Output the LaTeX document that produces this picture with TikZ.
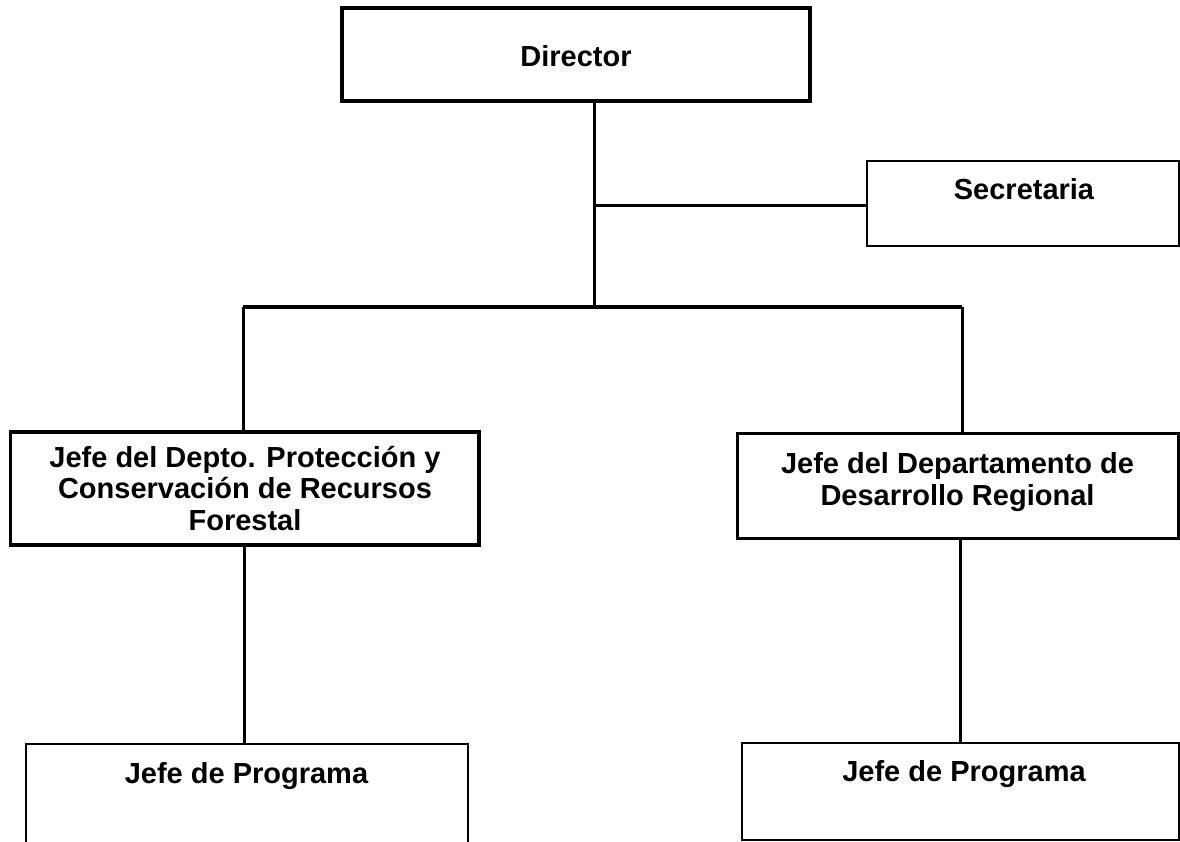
\documentclass[tikz,border=0pt]{standalone}
\usepackage{fontspec}
\setmainfont{Liberation Sans}
\begin{document}
\begin{tikzpicture}[x=1pt,y=-1pt,
  box/.style={draw=black, rectangle, inner sep=0pt, minimum width=#1},
  lbl/.style={font=\fontsize{29}{31.5}\selectfont\bfseries, inner sep=0pt, align=center, anchor=base},
  conn/.style={draw=black, line width=3pt}
]
\clip (0,0) rectangle (1180,842);
\fill[white] (0,0) rectangle (1180,842);
% boxes
\node[box=468pt, minimum height=93pt, line width=3.5pt] (dir) at (576,54.5) {};
\node[box=312pt, minimum height=85pt, line width=2pt] (sec) at (1023,203.5) {};
\node[box=468.5pt, minimum height=113pt, line width=3.5pt] (L1) at (244.75,488.5) {};
\node[box=441pt, minimum height=105pt, line width=3pt] (R1) at (957.5,485.5) {};
\node[box=442pt, minimum height=116pt, line width=2pt] (L2) at (247,802) {};
\node[box=436.5pt, minimum height=97pt, line width=2pt] (R2) at (960.25,791.5) {};
% texts (anchor=base is the baseline of the last line)
\node[lbl] (dirT) at (576,67) {Director};
\node[lbl] (secT) at (1024,200) {Secretaria};
\node[lbl] (L1T) at (245,530) {Jefe del Depto. Protección y\\Conservación de Recursos\\Forestal};
\node[lbl] (R1T) at (957.5,505) {Jefe del Departamento de\\Desarrollo Regional};
\node[lbl] (L2T) at (246.5,783) {Jefe de Programa};
\node[lbl] (R2T) at (964,781) {Jefe de Programa};
% junctions
\coordinate (jS) at (594,206);
\coordinate (jB) at (594,307);
\coordinate (bL) at (243,307);
\coordinate (bR) at (962,307);
% connectors
\draw[conn] (jB |- dir.south) -- (jB);
\draw[conn] (jS) -- (jS -| sec.west);
\draw[conn, line width=3.5pt] (bL) -- (bR);
\draw[conn] (bL) -- (bL |- L1.north);
\draw[conn] (bR) -- (bR |- R1.north);
\draw[conn] (L1.south) -- (L1.south |- L2.north);
\draw[conn] (R2.north |- R1.south) -- (R2.north);
\end{tikzpicture}
\end{document}
